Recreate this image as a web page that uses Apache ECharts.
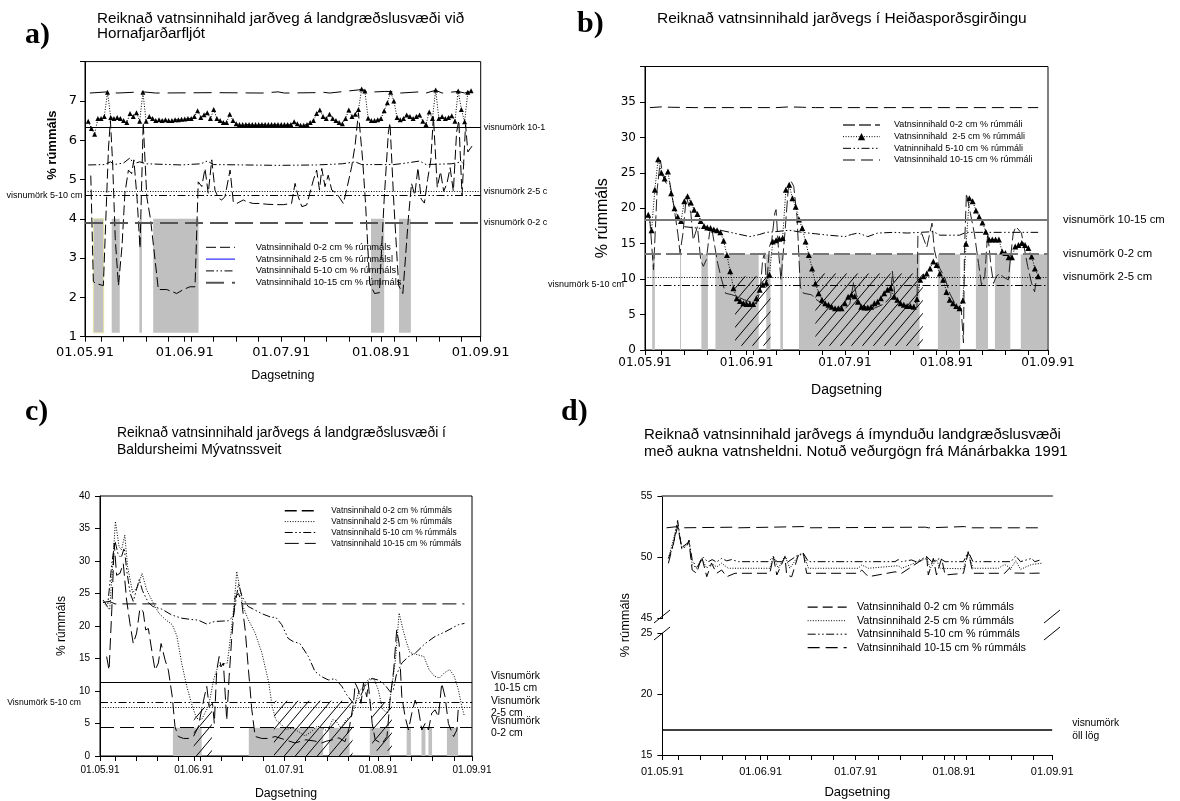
<!DOCTYPE html>
<html><head><meta charset="utf-8">
<script src="https://cdn.jsdelivr.net/npm/echarts@6.0.0/dist/echarts.min.js"></script>
<style>html,body{margin:0;padding:0;background:#fff}#c{width:1180px;height:801px}</style>
</head><body><div id="c"></div>
<script>
// ---------- shared x axis (days since 1 May 1991) ----------
const majorDays = [0, 31, 61, 92, 123];
const dateLabels = ['01.05.91', '01.06.91', '01.07.91', '01.08.91', '01.09.91'];
const minorDays = [5, 12, 19, 26, 33, 40, 47, 54, 68, 75, 82, 89, 96, 103, 110, 117];

// ---------- panel a ----------
const aTitle = 'Reiknað vatnsinnihald jarðveg á landgræðslusvæði við\nHornafjarðarfljót';
const aLegend = ['Vatnsinnihald 0-2 cm % rúmmáls', 'Vatnsinnihald 2-5 cm % rúmmálsl', 'Vatnsinnihald 5-10 cm % rúmmáls', 'Vatnsinnihald 10-15 cm % rúmmáls'];
const a25Daily = [ // day 1..120
  6.48,6.3,6.15,6.55,6.55,6.6,7.22,6.58,6.55,6.58,
  6.55,6.5,6.45,6.68,6.6,6.7,6.48,7.22,6.48,6.6,
  6.55,6.5,6.52,6.5,6.52,6.5,6.5,6.52,6.52,6.53,
  6.54,6.55,6.55,6.6,6.75,6.58,6.65,6.7,6.55,6.78,
  6.55,6.5,6.45,6.45,6.66,6.5,6.42,6.4,6.4,6.4,
  6.4,6.4,6.4,6.4,6.4,6.4,6.4,6.4,6.4,6.4,
  6.4,6.4,6.4,6.4,6.47,6.42,6.38,6.38,6.4,6.45,
  6.5,6.68,6.77,6.6,6.55,6.66,6.55,6.5,6.45,6.42,
  6.55,6.77,6.6,6.66,6.78,7.3,7.25,6.56,6.5,6.5,
  6.52,6.55,6.75,6.95,7.22,7.0,6.58,6.52,6.55,6.64,
  6.6,6.55,6.6,6.64,6.48,6.4,6.72,6.55,7.28,6.55,
  6.6,6.55,6.58,6.62,6.48,7.25,6.78,6.47,7.22,7.26];
const a02 = [[1.8,5.1],[2.6,2.4],[3.5,2.35],[5.7,2.3],[7.3,5.8],[7.9,6.5],[8.6,5.4],[9.4,3.5],[10.4,2.3],[11.5,3.3],[12.4,4.65],[13.5,5.24],[14.5,5.15],[15.2,5.5],[16.2,4.5],[17.1,3.25],[18.1,6.45],[19.2,4.56],[20.4,3.97],[22.8,2.2],[25.4,2.2],[27,2.15],[28.5,2.1],[30.6,2.2],[32.6,2.27],[34.2,2.27],[35.2,4.94],[36.3,4.82],[37.3,5.28],[38.3,4.65],[39.4,5.5],[40.4,4.73],[41.5,4.52],[42.5,4.48],[43.5,4.56],[45.1,5.24],[46.1,4.43],[47.2,4.39],[49.2,4.48],[50.3,4.43],[52.3,4.39],[54.4,4.39],[56.5,4.37],[59.6,4.36],[61.7,4.36],[64.2,4.39],[65.3,4.9],[66.3,4.56],[67.4,4.31],[68.9,4.35],[71,4.99],[72,5.24],[72.9,4.73],[73.6,5.28],[74.6,4.82],[75.6,5.11],[76.7,4.73],[78.2,4.65],[80.3,4.39],[81.3,4.73],[82.9,5.33],[84,5.9],[85,6.7],[86.3,5.5],[87.2,4.4],[88.5,2.35],[90,2.1],[91.5,2.12],[93,4.5],[94.3,6.2],[94.8,6.44],[96,4.4],[97.5,2.3],[98.8,2.1],[100.5,4.0],[101.5,4.9],[102.5,4.6],[103.5,5.3],[104.5,4.5],[105.5,4.4],[106.5,5.0],[107.5,5.5],[108.3,6.6],[109.5,4.8],[110.5,5.2],[111.5,4.7],[112.5,4.9],[113.5,5.3],[114.5,4.7],[115.5,6.2],[116.2,6.5],[117.2,4.6],[118.3,6.4],[119,5.7],[120.3,5.85]];
const a510 = [[1,5.37],[6,5.38],[8,5.45],[9,5.38],[12,5.42],[14,5.55],[15,5.4],[17,5.45],[19,5.4],[30,5.37],[36,5.4],[38,5.47],[40,5.38],[60,5.36],[72,5.37],[80,5.4],[84,5.45],[86,5.38],[96,5.38],[100,5.42],[104,5.47],[106,5.38],[114,5.4],[117,5.45],[118,5.37]];
const a1015 = [[1.5,7.2],[7,7.23],[10,7.2],[18,7.23],[22,7.2],[40,7.21],[55,7.2],[60,7.23],[62,7.2],[72,7.21],[74,7.22],[76,7.2],[85,7.28],[86,7.3],[88,7.22],[93,7.24],[95,7.24],[98,7.2],[104,7.23],[106,7.2],[109,7.27],[111,7.2],[116,7.24],[118,7.2],[119.8,7.25]];
const aDry = [[2.6,5.8],[8.3,10.8],[16.9,17.7],[21.2,35.3],[88.9,93],[97.6,101.3]];
const aDryLevels = [1.1, 4.0];
const aLimits = [6.32, 4.69, 4.6, 3.9]; // 10-15, 2-5, 5-10, 0-2
const aLimitText = ['visnumörk 10-1', 'visnumörk 2-5 c', 'visnumörk 5-10 cm', 'visnumörk 0-2 c'];

// ---------- panel b ----------
const bTitle = 'Reiknað vatnsinnihald jarðvegs í Heiðasporðsgirðingu';
const bLegend = ['Vatnsinnihald 0-2 cm % rúmmáli', 'Vatnsinnihald  2-5 cm % rúmmáli', 'Vatninnihald 5-10 cm % rúmmáli', 'Vatnsinnihald 10-15 cm % rúmmáli'];
const b25Daily = [ // day 1..120
  19.1,16.9,22.6,26.9,25.0,24.2,25.2,22.1,20.0,18.8,
  18.2,21.0,21.7,20.8,19.8,19.2,18.2,17.5,17.3,17.2,
  17.0,16.9,16.6,15.4,13.4,11.1,8.7,7.3,6.9,6.6,
  6.5,6.5,6.5,7.3,8.5,9.2,9.5,10.6,15.3,15.5,
  15.7,15.8,22.6,23.3,21.4,20.2,18.4,17.2,15.3,13.4,
  11.5,9.4,8.0,7.1,6.6,6.4,6.1,5.9,5.9,5.9,
  6.6,7.5,7.8,7.6,6.8,6.1,6.0,6.0,6.1,6.6,
  6.8,7.3,8.0,8.5,8.7,7.5,7.1,6.6,6.4,6.2,
  6.2,6.1,7.2,9.9,10.4,10.8,11.5,12.5,12.0,10.8,
  9.9,8.2,7.1,6.6,6.2,5.9,7.0,15.0,21.4,21.0,
  19.7,18.8,18.0,16.7,15.6,15.6,15.6,15.6,13.9,13.7,
  13.1,13.1,14.6,14.8,15.1,14.8,14.4,13.2,11.5,10.4];
const b02 = [[1.4,18.8],[2.6,11.3],[3.7,22.6],[4.7,26.8],[5.5,24.5],[6.5,23.5],[7.5,23.8],[8.8,20.3],[10,16.5],[10.7,13.7],[11.6,16.5],[12.6,21.7],[14,19.3],[14.7,15.5],[16,17.4],[17,12.7],[17.8,11.8],[18.7,12.7],[19.7,16.5],[20.3,17.4],[21.3,14.6],[22.2,12.2],[23.4,9.9],[24.6,8.0],[26.5,7.8],[28.4,7.5],[30.2,7.1],[32.1,6.8],[34,6.5],[35.2,8.5],[35.9,12.7],[36.5,13.7],[37.1,8.9],[38,14.6],[38.7,15.5],[39.6,19.3],[40,19.8],[40.8,13.7],[41.5,9.9],[42.7,16.5],[43.7,22.6],[44.6,23.8],[45.4,23.1],[46.4,18.8],[47.4,8.9],[48.4,8.0],[50.8,7.8],[52,7.2],[55,6.3],[58,5.8],[61,5.8],[62.5,6.5],[63.7,9.6],[64.5,7.8],[66,6.2],[70,5.9],[73,6.5],[75,7.5],[75.5,11.1],[76.3,7.6],[78,6.5],[81,6.1],[83,6.0],[83.3,16.3],[84.5,16.4],[86,14.5],[87.6,17.9],[88.3,14.2],[89,12.8],[90,11.5],[91.5,10.2],[93,8.0],[95,6.2],[96.5,5.9],[97.2,1.0],[97.5,14],[98.1,22.1],[99.3,19.3],[100.5,16.5],[101.8,12.2],[102.7,9.2],[103.7,10.4],[104.6,16.5],[105.6,11.8],[106.4,9.4],[107.2,10.4],[108.4,10.8],[109.3,10.3],[110.9,9.9],[111.6,13.2],[112.4,16.5],[113.2,17.4],[114.9,16.5],[116.8,11.8],[118,9.4],[118.9,8.2],[119.6,10.4]];
const b510 = [[12,17.4],[16,17.2],[20,17.1],[24,16.8],[28,16.4],[32,16.0],[35,16.3],[37,16.6],[40,16.7],[44,16.9],[48,16.6],[52,16.4],[56,16.2],[61,16.0],[63,16.3],[65,16.5],[68,16.0],[71,16.5],[76,16.6],[80,16.5],[84,16.6],[88,16.7],[90,16.2],[96,16.2],[98,16.6],[110,16.6],[120,16.6]];
const b1015 = [[1.5,34.2],[5,34.3],[8,34.25],[15,34.2],[40,34.2],[44,34.3],[48,34.25],[52,34.2],[120,34.2]];
const bDry = [[2.2,3.0],[10.7,11.0],[17.2,19.2],[21.5,34.7],[37.0,38.3],[41.3,42.1],[47.0,83.8],[89.4,96.2],[101.0,104.7],[106.8,111.5],[114.7,122.7]];
const bDryLevels = [0, 13.5];
const bHatch = [[27.5,38.3,0.6,10.4],[52,84.8,0.6,10.8]];
const bLimits = [18.4, 13.56, 10.27, 9.18]; // 10-15, 0-2, 2-5, 5-10
const bLimitText = ['visnumörk 10-15 cm', 'visnumörk 0-2 cm', 'visnumörk 2-5 cm', 'visnumörk 5-10 cm'];

// ---------- panel c ----------
const cTitle = 'Reiknað vatnsinnihald jarðvegs á landgræðslusvæði í\nBaldursheimi Mývatnssveit';
const cLegend = ['Vatnsinnihald 0-2 cm % rúmmáls', 'Vatnsinnihald 2-5 cm % rúmmáls', 'Vatnsinnihald 5-10 cm % rúmmáls', 'Vatnsinnihald 10-15 cm % rúmmáls'];
const c02 = [[2.2,15.3],[3,13.2],[3.9,22.5],[4.7,32.7],[5.5,27.8],[6.6,28.1],[7.7,29.6],[8.8,24.0],[9.9,20.4],[11,17.3],[12.1,18.9],[13.2,22.7],[14.3,22.2],[15.1,19.4],[16,19.6],[17.1,16.3],[18.2,13.2],[19.3,14.3],[20.2,17.3],[21.5,14.8],[22.6,13.2],[23.9,9.1],[24.8,4.5],[25.9,3.0],[27.6,2.7],[29.2,2.7],[30.9,3.0],[32.5,4.5],[33.6,7.1],[34.5,9.1],[35.3,10.7],[36.1,7.6],[37.2,8.1],[37.8,5.0],[38.6,13.2],[39.4,15.3],[40,13.7],[40.8,14.3],[41.9,5.5],[42.7,12.2],[43.5,17.8],[44.7,24.5],[45.8,25.0],[46.9,23.5],[48,19.4],[49.1,13.2],[50.2,7.1],[51.3,3.0],[53.5,2.7],[55.7,2.7],[57.9,3.0],[61.2,2.5],[64.5,2.0],[68,2.5],[71,2.3],[73.3,2.0],[75,2.3],[77,2.5],[79,2.8],[81,2.2],[82.5,4.5],[83.8,8.1],[84.4,11.2],[85.4,10.2],[86.3,8.1],[87.1,11.2],[88.2,9.1],[88.7,11.2],[90,5.0],[91,2.5],[93.2,1.9],[94.9,3.0],[96,9.1],[97.1,13.2],[98.1,19.4],[98.9,17.3],[99.8,9.1],[100.9,6.0],[102,4.0],[103.1,6.6],[104.2,8.6],[105.3,7.1],[106.4,4.0],[107.5,5.0],[108.6,4.0],[109.7,6.6],[110.8,7.1],[111.9,6.0],[113,11.2],[114.1,9.1],[115.2,5.0],[116.9,3.0],[118,4.0],[118.5,7.6]];
const c25 = [[1.7,23.3],[3.2,22.5],[4.3,30.2],[5.1,36.1],[6.3,32.2],[7.1,31.7],[8.2,34.0],[9.1,29.2],[10.8,25.1],[12.5,26.1],[13.9,28.1],[15.4,25.6],[17.1,24.0],[19.4,22.0],[21.6,21.0],[23.9,20.2],[25.4,18.5],[27,14.3],[28.7,10.7],[30.3,8.0],[31.9,5.8],[33.6,5.6],[34.7,6.6],[35.9,7.7],[37.6,11.8],[39,13.8],[40.4,14.1],[42.1,14.3],[43.3,18.9],[44.4,23.5],[45.2,28.4],[46.1,26.1],[47.3,23.0],[49,21.0],[51.3,18.9],[53.5,15.9],[55.8,11.3],[56.9,7.7],[58.1,5.6],[59.8,4.9],[61.5,4.1],[63.8,4.3],[66.1,3.6],[67.8,3.1],[69.5,3.6],[71.8,4.6],[73.5,4.3],[75.2,3.8],[76.9,5.6],[78,5.4],[79.7,4.3],[81.4,5.6],[83.1,6.1],[84.3,7.7],[85.4,9.7],[87.1,10.7],[88.8,11.8],[90.5,12.0],[92,10.2],[93.4,7.2],[95.1,6.6],[96.2,9.7],[97.7,14.8],[98.9,22.0],[100.2,19.4],[101.4,17.4],[102.5,15.9],[104.8,15.6],[107.1,15.3],[108.8,13.3],[110.5,12.3],[112.2,12.0],[113.9,12.8],[115.6,13.3],[117.1,12.3],[118.5,10.2],[119.6,7.7],[120.5,6.1]];
const c510 = [[1,24],[2.5,23],[4,30],[5,33],[6,31],[7,30.5],[8,32],[9,28],[10,25],[11,23.8],[12,25.5],[13,27.2],[14,25.5],[15,24.5],[16,23.6],[17.5,23.0],[20.4,22.6],[23.7,21.7],[27,21.2],[30.3,21.0],[32.5,20.9],[35.3,20.3],[38,20.7],[42.4,20.8],[44.1,21.5],[45.8,26.5],[47,24.5],[49,23],[53.5,21.9],[56.8,21.3],[58,21.4],[60.1,20.2],[62.2,18.1],[63.9,17.6],[66.1,17.3],[68.9,15.3],[71.1,13.0],[73.3,12.2],[75.5,11.7],[77.7,11.9],[80,10.7],[81.6,9.4],[83.8,8.1],[86,9.1],[88.2,11.2],[89.9,11.9],[92,11.7],[94.3,10.9],[95.9,9.9],[97,10.2],[98,12.5],[99.8,14.3],[102,15.3],[104.2,15.8],[107.5,17.3],[110.8,18.4],[114.1,19.1],[118.5,20.2],[120.5,20.4]];
const c1015 = [[1,23.6],[3,23.8],[5,23.4],[120.5,23.4]];
const cDry = [[24.1,33.6],[49.2,73.8],[75.7,82.5],[89.2,95.8],[101.4,102.8],[106.3,107.6],[108.6,109.8],[114.7,118.4]];
const cDryLevels = [0, 4.35];
const cHatch = [[31,37,0,7.5],[57.5,83.5,0,8.5],[90,96.5,0.8,8.2]];
const cLimits = [11.35, 8.2, 7.5, 4.4]; // 10-15, 5-10, 2-5, 0-2
const cLimitText = ['Visnumörk\n 10-15 cm', 'Visnumörk 5-10 cm', 'Visnumörk\n2-5 cm', 'Visnumörk\n0-2 cm'];

// ---------- panel d ----------
const dTitle = 'Reiknað vatnsinnihald jarðvegs á ímynduðu landgræðslusvæði\nmeð aukna vatnsheldni. Notuð veðurgögn frá Mánárbakka 1991';
const dLegend = ['Vatnsinnihald 0-2 cm % rúmmáls', 'Vatnsinnihald 2-5 cm % rúmmáls', 'Vatnsinnihald 5-10 cm % rúmmáls', 'Vatnsinnihald 10-15 cm % rúmmáls'];
const d02 = [[1.9,49.5],[4.8,52.5],[6.1,50.8],[7.7,51.1],[8.4,51.2],[9.4,48.95],[10.8,48.68],[12.4,50.04],[14,48.4],[15.5,49.5],[17.1,48.68],[18.7,48.95],[20.3,48.4],[22.9,48.68],[33.9,48.68],[35,50.04],[36.1,48.54],[38.7,50.04],[39.2,48.54],[40.8,48.4],[42.9,50.18],[44.5,50.3],[45.5,48.68],[61.8,48.68],[62.9,48.95],[65,48.4],[73.4,48.8],[75.5,48.68],[83.4,50.04],[83.9,48.54],[85.5,49.9],[86.5,48.54],[88.1,49.9],[89.2,48.54],[95,48.68],[96.5,50.4],[98,48.68],[108,48.68],[109.5,49.1],[111,48.7],[116.5,48.68],[119.6,48.7]];
const d25 = [[1.9,49.9],[4.8,52.8],[6.1,50.7],[7.7,51.1],[8.4,51.3],[9.4,49.4],[10.8,49.1],[12.4,49.9],[14,49.1],[15.5,49.5],[17.1,49.2],[18.7,49.5],[20.8,49.09],[33.9,49.09],[35,50.04],[36.6,49.09],[38.7,50.1],[40.2,49.09],[42.9,50.1],[44.5,50.3],[46.1,49.09],[61.8,49.09],[62.9,49.36],[65,49.09],[74.4,49.3],[75.5,49.09],[83.4,49.9],[84.5,49.09],[86.5,49.77],[87.6,49.09],[95,49.05],[96.5,50.4],[98,49.09],[106,49.09],[108,49.4],[110,49.09],[111.5,49.7],[113,49.0],[116.5,49.4],[119.6,49.5]];
const d510 = [[1.9,49.9],[3.4,50.9],[4.8,53.0],[6.1,50.7],[7.7,50.9],[8.4,51.4],[9.4,49.8],[10.8,49.1],[12.9,50.0],[14.3,49.6],[15.7,49.8],[17.1,49.6],[18.7,49.9],[20.3,49.7],[21.8,49.8],[24,49.63],[33.4,49.63],[35,50.04],[36.1,49.63],[37.6,49.63],[38.7,50.04],[39.7,49.63],[42.9,50.2],[44.5,50.3],[46.1,49.63],[73.4,49.63],[74.4,49.8],[75.5,49.63],[78.6,49.77],[80,49.63],[83.4,50.04],[85,49.63],[86.5,49.77],[87.6,49.9],[89.2,49.63],[95,49.63],[96.5,50.45],[98,49.63],[110,49.63],[111.5,50.1],[113,49.63],[116.5,49.9],[117.5,49.63],[119.6,49.8]];
const d1015 = [[1.3,52.4],[4.8,52.5],[6,52.4],[23,52.45],[24,52.4],[44.5,52.5],[46,52.4],[83,52.45],[84,52.4],[95.3,52.5],[97,52.4],[119.6,52.4]];
const dLimit = 17.1;
const dLimitText = 'visnumörk\nöll lög';

// ---------- styling helpers ----------
const FS = 'Liberation Sans, Arial, sans-serif';
const DJ = 'DejaVu Sans, sans-serif';
const SERIF = 'Liberation Serif, serif';
const DOT = [1, 1.6];
const DDD = [8, 2.5, 1.5, 2.5, 1.5, 2.5];

function hatchPattern() {
  const w = 11, h = 13;
  const cv = document.createElement('canvas');
  cv.width = w; cv.height = h;
  const g = cv.getContext('2d');
  g.strokeStyle = '#000'; g.lineWidth = 1;
  g.beginPath();
  g.moveTo(0, h); g.lineTo(w, 0);
  g.moveTo(-w, h); g.lineTo(0, 0);
  g.moveTo(w, h); g.lineTo(2 * w, 0);
  g.stroke();
  return { image: cv, repeat: 'repeat' };
}
const HATCH = hatchPattern();

const allTicks = majorDays.concat(minorDays);
function xAx(grid, fs, ff, margin, nameGap, nameFs) {
  return {
    gridIndex: grid, type: 'value', min: 0, max: 123,
    axisLine: { show: true, onZero: false, lineStyle: { color: '#000', width: 1 } },
    axisTick: { show: true, customValues: allTicks, length: 5, lineStyle: { color: '#000' } },
    axisLabel: { show: true, customValues: majorDays, formatter: v => dateLabels[majorDays.indexOf(v)], fontSize: fs, fontFamily: ff, color: '#000', margin: margin },
    splitLine: { show: false },
    name: 'Dagsetning', nameLocation: 'middle', nameGap: nameGap,
    nameTextStyle: { fontSize: nameFs, fontFamily: FS, color: '#000' }
  };
}
function yAx(grid, min, max, interval, fs, ff, margin, hideVal, nm) {
  const o = {
    gridIndex: grid, type: 'value', min: min, max: max, interval: interval,
    axisLine: { show: true, onZero: false, lineStyle: { color: '#000', width: 1 } },
    axisTick: { show: true, length: 5, lineStyle: { color: '#000' } },
    axisLabel: { fontSize: fs, fontFamily: ff, color: '#000', margin: margin, formatter: v => (v === hideVal ? '' : String(v)) },
    splitLine: { show: false }
  };
  if (nm) {
    o.name = '% rúmmáls'; o.nameLocation = 'middle'; o.nameGap = nm.gap;
    o.nameTextStyle = { fontSize: nm.fs, fontFamily: FS, color: '#000', fontWeight: nm.bold ? 'bold' : 'normal', padding: nm.pad || 0 };
  }
  return o;
}
function ln(name, xi, yi, data, ls, extra) {
  return Object.assign({
    type: 'line', name: name, xAxisIndex: xi, yAxisIndex: yi, data: data,
    symbol: 'none', clip: false, silent: true, animation: false, z: 3,
    lineStyle: Object.assign({ color: '#000', width: 1 }, ls)
  }, extra || {});
}
function tri(name, xi, yi, daily, ls, size) {
  return ln(name, xi, yi, daily.map((v, i) => [i + 1, v]), ls, {
    symbol: 'triangle', symbolSize: size, showSymbol: true, showAllSymbol: true, itemStyle: { color: '#000' }
  });
}
function dryAreas(ranges, lv, style) {
  return ranges.map(r => [{ xAxis: r[0], yAxis: lv[0], itemStyle: Object.assign({ color: '#c0c0c0', borderWidth: 0 }, style || {}) }, { xAxis: r[1], yAxis: lv[1] }]);
}
function hatchAreas(list) {
  return list.map(r => [{ xAxis: r[0], yAxis: r[2], itemStyle: { color: HATCH, borderWidth: 0 } }, { xAxis: r[1], yAxis: r[3] }]);
}
function mArea(items) { return { silent: true, label: { show: false }, data: items }; }
function lim(v, ls, text, pos, fs, dist, up, lh) {
  return {
    yAxis: v, lineStyle: Object.assign({ color: '#000', width: 1 }, ls),
    label: { show: true, position: pos, formatter: text, fontSize: fs, fontFamily: FS, color: '#000', distance: dist, padding: [0, 0, (up || 0) * 2, 0], lineHeight: lh || fs + 2 }
  };
}
function mLine(items) { return { silent: true, symbol: ['none', 'none'], animation: false, data: items }; }

const legendText = {};
['a', 'b', 'c', 'd'].forEach((p, k) => {
  const arr = [aLegend, bLegend, cLegend, dLegend][k];
  arr.forEach((t, i) => { legendText[p + i] = t; });
});
function leg(prefix, left, top, iw, ih, gap, fs, pad, overrides) {
  return {
    orient: 'vertical', left: left, top: top, padding: 0, itemWidth: iw, itemHeight: ih, itemGap: gap,
    selectedMode: false,
    data: [0, 1, 2, 3].map(i => Object.assign({ name: prefix + i }, (overrides && overrides[i]) || {})),
    formatter: n => legendText[n],
    itemStyle: { color: 'rgba(0,0,0,0)', borderColor: 'rgba(0,0,0,0)', borderWidth: 0 },
    lineStyle: { width: 1 },
    textStyle: { fontSize: fs, fontFamily: FS, color: '#000', padding: [0, 0, 0, pad], lineHeight: ih }
  };
}
function ttl(text, left, top, fs, lh) {
  return { text: text, left: left, top: top, padding: 0, textStyle: { fontFamily: FS, fontWeight: 'normal', fontSize: fs, lineHeight: lh, color: '#000' } };
}
function letter(text, left, top) {
  return { text: text, left: left, top: top, padding: 0, textStyle: { fontFamily: SERIF, fontWeight: 'bold', fontSize: 30, color: '#000' } };
}

const option = {
  animation: false,
  backgroundColor: '#fff',
  textStyle: { fontFamily: FS },
  title: [
    letter('a)', 25, 20),
    ttl(aTitle, 97, 11, 15.2, 15.5),
    letter('b)', 577, 9),
    ttl(bTitle, 657, 11, 15.5, 16),
    letter('c)', 25, 397),
    ttl(cTitle, 117, 425, 13.9, 16.5),
    letter('d)', 561, 397),
    ttl(dTitle, 644, 427, 15, 16.7)
  ],
  grid: [
    { left: 85, top: 61.6, width: 395.7, height: 275.1, show: true, borderColor: '#000', borderWidth: 1 },
    { left: 645, top: 66.5, width: 403, height: 283.5, show: true, borderColor: '#000', borderWidth: 1 },
    { left: 100, top: 496, width: 372, height: 260, show: true, borderColor: '#000', borderWidth: 1 },
    { left: 662.4, top: 496, width: 389.8, height: 122.3 },
    { left: 662.4, top: 633.3, width: 389.8, height: 121.7 }
  ],
  xAxis: [
    xAx(0, 13, DJ, 9, 32, 12.5),
    xAx(1, 12, DJ, 7, 33.5, 14),
    xAx(2, 10, FS, 9, 32, 12.3),
    { gridIndex: 3, type: 'value', min: 0, max: 123, position: 'top', axisLine: { show: true, lineStyle: { color: '#808080', width: 2 } }, axisTick: { show: false }, axisLabel: { show: false }, splitLine: { show: false } },
    xAx(4, 11, FS, 11, 31, 13)
  ],
  yAxis: [
    yAx(0, 1, 8, 1, 13, DJ, 8, 8, { gap: 26, fs: 13, bold: true, pad: [0, 0, 0, 108] }),
    yAx(1, 0, 40, 5, 12, DJ, 9, 40, { gap: 34, fs: 16, pad: [0, 20, 0, 0] }),
    yAx(2, 0, 40, 5, 10, FS, 10, null, { gap: 32, fs: 12 }),
    yAx(3, 45, 55, 5, 10.5, FS, 10, null, { gap: 30, fs: 12.8, pad: [0, 136, 0, 0] }),
    yAx(4, 15, 25, 5, 10.5, FS, 10, null, null),
    { gridIndex: 3, type: 'value', min: 45, max: 55, position: 'right', axisLine: { show: true, lineStyle: { color: '#000' } }, axisTick: { show: false }, axisLabel: { show: false }, splitLine: { show: false } },
    { gridIndex: 4, type: 'value', min: 15, max: 25, position: 'right', axisLine: { show: true, lineStyle: { color: '#000' } }, axisTick: { show: false }, axisLabel: { show: false }, splitLine: { show: false } }
  ],
  legend: [
    leg('a', 205, 242.3, 29, 10, 1.8, 9.3, 15.8, { 1: { lineStyle: { color: '#0000ff', type: 'solid', width: 1 } }, 3: { lineStyle: { color: '#555', width: 2 } } }),
    leg('b', 842, 120.5, 37, 9, 2.67, 9, 9, { 0: { lineStyle: { color: '#666', width: 2 } }, 1: { itemStyle: { color: '#000' } } }),
    leg('c', 284, 506.2, 31, 9, 1.9, 8.3, 10.6, { 0: { lineStyle: { width: 1.5 } } }),
    leg('d', 807, 601.7, 39, 10, 2.5, 10.8, 5.3, { 0: { lineStyle: { width: 1.3 } }, 3: { lineStyle: { width: 1.3 } } })
  ],
  series: [
    // ---- a
    ln('a3', 0, 0, a1015, { type: [18, 8] }, {
      markArea: mArea(dryAreas(aDry.slice(0, 1), aDryLevels, { borderColor: '#e4e4a8', borderWidth: 1 }).concat(dryAreas(aDry.slice(1), aDryLevels))),
      markLine: mLine([
        lim(aLimits[0], { type: 'solid', width: 1.2 }, aLimitText[0], 'end', 9, 3, 12.5),
        lim(aLimits[1], { type: DOT }, aLimitText[1], 'end', 9, 3, 6),
        lim(aLimits[2], { type: DDD }, aLimitText[2], 'start', 9, 2.4, 5),
        lim(aLimits[3], { type: [18, 7], color: '#555', width: 2 }, aLimitText[3], 'end', 9, 3, 4.4)
      ])
    }),
    ln('a0', 0, 0, a02, { type: [10, 4] }),
    tri('a1', 0, 0, a25Daily, { type: DOT }, 5),
    ln('a2', 0, 0, a510, { type: DDD }),
    // ---- b
    ln('b3', 1, 1, b1015, { type: [12, 6] }, {
      markArea: mArea(dryAreas(bDry, bDryLevels).concat(hatchAreas(bHatch))),
      markLine: mLine([
        lim(bLimits[0], { type: 'solid', color: '#777', width: 2.2 }, bLimitText[0], 'end', 11.3, 15, 0),
        lim(bLimits[1], { type: [16, 5], color: '#777', width: 2.2 }, bLimitText[1], 'end', 11.3, 15, 0),
        lim(bLimits[2], { type: DOT }, bLimitText[2], 'end', 11.3, 15, 0),
        lim(bLimits[3], { type: DDD }, bLimitText[3], 'start', 9, 21, 0)
      ])
    }),
    ln('b0', 1, 1, b02, { type: [12, 4], color: '#222' }),
    ln('b2', 1, 1, b510, { type: DDD }),
    tri('b1', 1, 1, b25Daily, { type: DOT }, 6),
    // ---- c
    ln('c3', 2, 2, c1015, { type: [14, 6] }, {
      markArea: mArea(dryAreas(cDry, cDryLevels).concat(hatchAreas(cHatch))),
      markLine: mLine([
        lim(cLimits[0], { type: 'solid', width: 1.2 }, cLimitText[0], 'end', 10.4, 19, 0, 12),
        lim(cLimits[1], { type: DDD }, cLimitText[1], 'start', 8.6, 19, 0),
        lim(cLimits[2], { type: DOT }, cLimitText[2], 'end', 10.4, 19, 0, 12),
        lim(cLimits[3], { type: [14, 6], width: 1.2 }, cLimitText[3], 'end', 10.4, 19, 0, 12)
      ])
    }),
    ln('c0', 2, 2, c02, { type: [12, 5] }),
    ln('c1', 2, 2, c25, { type: DOT }),
    ln('c2', 2, 2, c510, { type: DDD }),
    // ---- d
    ln('d3', 3, 3, d1015, { type: [12, 6] }),
    ln('d0', 3, 3, d02, { type: [10, 5] }),
    ln('d1', 3, 3, d25, { type: DOT }),
    ln('d2', 3, 3, d510, { type: DDD }),
    ln('dLim', 4, 4, [], {}, {
      markLine: mLine([lim(dLimit, { type: 'solid', width: 1.5 }, dLimitText, 'end', 10.3, 20, 0, 12.7)])
    })
  ],
  graphic: [
    { type: 'line', shape: { x1: 654, y1: 623, x2: 670, y2: 610 }, style: { stroke: '#000', lineWidth: 1 } },
    { type: 'line', shape: { x1: 654, y1: 640, x2: 670, y2: 627 }, style: { stroke: '#000', lineWidth: 1 } },
    { type: 'line', shape: { x1: 1044, y1: 623, x2: 1060, y2: 610 }, style: { stroke: '#000', lineWidth: 1 } },
    { type: 'line', shape: { x1: 1044, y1: 640, x2: 1060, y2: 627 }, style: { stroke: '#000', lineWidth: 1 } }
  ]
};

const chart = echarts.init(document.getElementById('c'), null, { renderer: 'canvas' });
chart.setOption(option);
</script>
</body></html>
